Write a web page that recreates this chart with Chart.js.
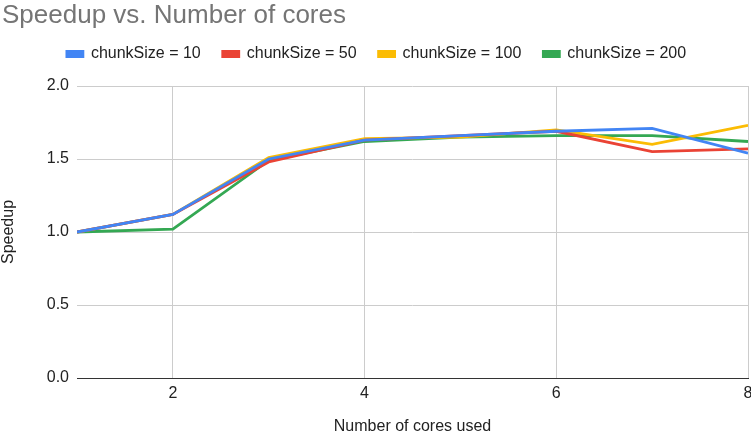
<!DOCTYPE html>
<html>
<head>
<meta charset="utf-8">
<script src="https://cdn.jsdelivr.net/npm/chart.js@4.4.0/dist/chart.umd.min.js"></script>
<style>
  html, body { margin:0; padding:0; background:#fff; }
  #wrap { width:751px; height:443px; }
</style>
</head>
<body>
<div id="wrap"><canvas id="chart" width="751" height="443"></canvas></div>
<script>
const cores = [1, 2, 3, 4, 5, 6, 7, 8];
const chunk10 = [1.00, 1.12, 1.50, 1.63, 1.66, 1.69, 1.71, 1.54];
const chunk50 = [1.00, 1.12, 1.48, 1.63, 1.66, 1.69, 1.55, 1.57];
const chunk100 = [1.00, 1.12, 1.51, 1.64, 1.65, 1.70, 1.60, 1.73];
const chunk200 = [1.00, 1.02, 1.49, 1.62, 1.65, 1.66, 1.66, 1.62];
const xTicks = [2, 4, 6, 8];
const yTicks = [0, 0.5, 1.0, 1.5, 2.0];

const font = "'Liberation Sans', Arial, sans-serif";

function series(label, values, color) {
  return {
    label,
    data: cores.map((c, i) => ({ x:c, y:values[i] })),
    borderColor: color,
    backgroundColor: color,
    borderWidth: 2.8,
    pointRadius: 0,
    tension: 0
  };
}

// extra room under the legend, chart.js has no option for it
const legendGap = {
  id: "legendGap",
  beforeLayout(chart) {
    const lg = chart.legend;
    if (!lg || lg._gapPatched) return;
    const fit = lg.fit;
    lg.fit = function() { fit.call(this); this.height += 14; };
    lg._gapPatched = true;
  }
};

new Chart(document.getElementById("chart"), {
  type: "line",
  data: {
    datasets: [
      series("chunkSize = 10", chunk10, "#4285f4"),
      series("chunkSize = 50", chunk50, "#ea4335"),
      series("chunkSize = 100", chunk100, "#fbbc04"),
      series("chunkSize = 200", chunk200, "#34a853")
    ]
  },
  plugins: [legendGap],
  options: {
    responsive: false,
    animation: false,
    layout: { padding: { left:2, right:0, top:0, bottom:0 } },
    plugins: {
      title: {
        display: true,
        text: "Speedup vs. Number of cores",
        align: "start",
        color: "#757575",
        font: { family: font, size: 26, weight: "normal", lineHeight: 1 },
        padding: { top:3, bottom:-5 }
      },
      legend: {
        position: "top",
        labels: {
          boxWidth: 16,
          boxHeight: 5,
          padding: 22,
          color: "#222",
          font: { family: font, size: 16 }
        }
      },
      tooltip: { enabled: false }
    },
    scales: {
      x: {
        type: "linear",
        min: 1,
        max: 8,
        afterBuildTicks: axis => { axis.ticks = xTicks.map(v => ({ value:v })); },
        afterFit: axis => {
          axis.height = 65;
          axis.paddingLeft = 0;
          axis.paddingRight = 3;
        },
        ticks: { color:"#222", font:{ family:font, size:16 }, padding:6 },
        grid: { color:"#cccccc", drawTicks:false },
        border: { display:true, color:"#333", width:1 },
        title: {
          display: true,
          text: "Number of cores used",
          color: "#222",
          font: { family:font, size:16 },
          padding: { top:0, bottom:7 }
        }
      },
      y: {
        min: 0,
        max: 2,
        afterBuildTicks: axis => { axis.ticks = yTicks.map(v => ({ value:v })); },
        afterFit: axis => { axis.width = 75; },
        ticks: {
          color:"#222",
          font:{ family:font, size:16 },
          padding:8,
          callback: v => Number(v).toFixed(1)
        },
        grid: {
          color: c => c.tick && c.tick.value === 0 ? "#333" : "#cccccc",
          drawTicks:false
        },
        border: { display:false },
        title: {
          display: true,
          text: "Speedup",
          color: "#222",
          font: { family:font, size:16 },
          padding: { top:-3, bottom:0 }
        }
      }
    }
  }
});
</script>
</body>
</html>
